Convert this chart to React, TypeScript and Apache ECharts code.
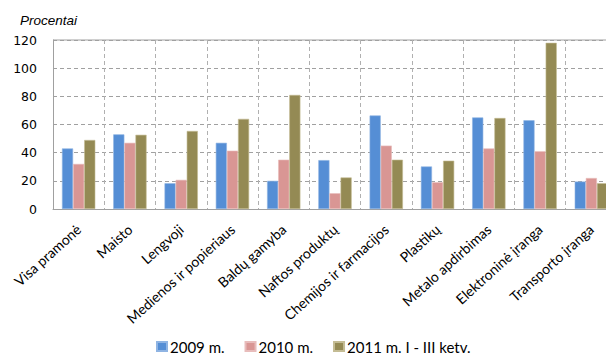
import React, { useEffect, useRef } from "react";
import * as echarts from "echarts";

const categories = [
  "Visa pramonė",
  "Maisto",
  "Lengvoji",
  "Medienos ir popieriaus",
  "Baldų gamyba",
  "Naftos produktų",
  "Chemijos ir farmacijos",
  "Plastikų",
  "Metalo apdirbimas",
  "Elektroninė įranga",
  "Transporto įranga",
];
const s2009 = [43, 53, 18.3, 47, 20, 34.7, 66.4, 30.2, 65, 63, 19.5];
const s2010 = [32, 47, 20.7, 41.4, 35, 11.2, 45, 19, 43, 41, 22];
const s2011 = [49, 52.7, 55.4, 64, 81, 22.4, 35, 34.3, 64.6, 118, 18.3];
const seriesNames = ["2009 m.", "2010 m.", "2011 m. I - III ketv."];
const colors = ["#558ED5", "#D99694", "#948A54"];
const borderColors = ["#8fb4e3", "#e8bcbb", "#c4bc94"];

export default function App() {
  const ref = useRef<HTMLDivElement>(null);
  useEffect(() => {
    const chart = echarts.init(ref.current!, null, { renderer: "svg" });
    const data = [s2009, s2010, s2011];
    chart.setOption({
      animation: false,
      title: {
        text: "Procentai",
        left: 15,
        top: 8,
        textStyle: {
          fontFamily: "Liberation Sans",
          fontStyle: "italic",
          fontWeight: "normal",
          fontSize: 13.5,
          color: "#000",
        },
      },
      legend: {
        top: 339,
        left: 156,
        padding: 0,
        itemWidth: 10,
        itemHeight: 9,
        itemGap: 20,
        icon: "rect",
        textStyle: { fontFamily: "Lato", fontSize: 15, color: "#000", padding: [0, 0, 0, -2] },
        data: seriesNames,
      },
      grid: { left: 53, top: 40, width: 564, height: 169, outerBoundsMode: "none", containLabel: false },
      xAxis: {
        type: "category",
        data: categories,
        axisLine: { show: true, lineStyle: { color: "#a0a0a0" } },
        axisTick: { show: false },
        splitLine: { show: true, lineStyle: { color: "#b0b0b0", type: [4, 3] } },
        axisLabel: {
          rotate: 42,
          interval: 0,
          fontFamily: "Lato",
          fontSize: 14,
          color: "#000",
          margin: 18,
        },
      },
      yAxis: {
        type: "value",
        min: 0,
        max: 120,
        interval: 20,
        axisLine: { show: true, lineStyle: { color: "#a0a0a0" } },
        axisTick: { show: false },
        splitLine: { show: true, lineStyle: { color: "#a0a0a0", type: [4, 3] } },
        axisLabel: {
          fontFamily: "DejaVu Sans",
          fontSize: 12.5,
          color: "#000",
          margin: 16,
        },
      },
      graphic: [
        {
          type: "line",
          shape: { x1: 53, y1: 40, x2: 606, y2: 40 },
          style: { stroke: "#a0a0a0", lineWidth: 1 },
        },
      ],
      series: seriesNames.map((name, i) => ({
        name,
        type: "bar",
        data: data[i],
        barGap: "0%",
        barCategoryGap: "35%",
        itemStyle: { color: colors[i], borderColor: borderColors[i], borderWidth: 0.6 },
      })),
    });
    return () => chart.dispose();
  }, []);
  return (
    <div
      ref={ref}
      style={{ position: "fixed", left: 0, top: 0, width: 606, height: 358, background: "#fff" }}
    />
  );
}
